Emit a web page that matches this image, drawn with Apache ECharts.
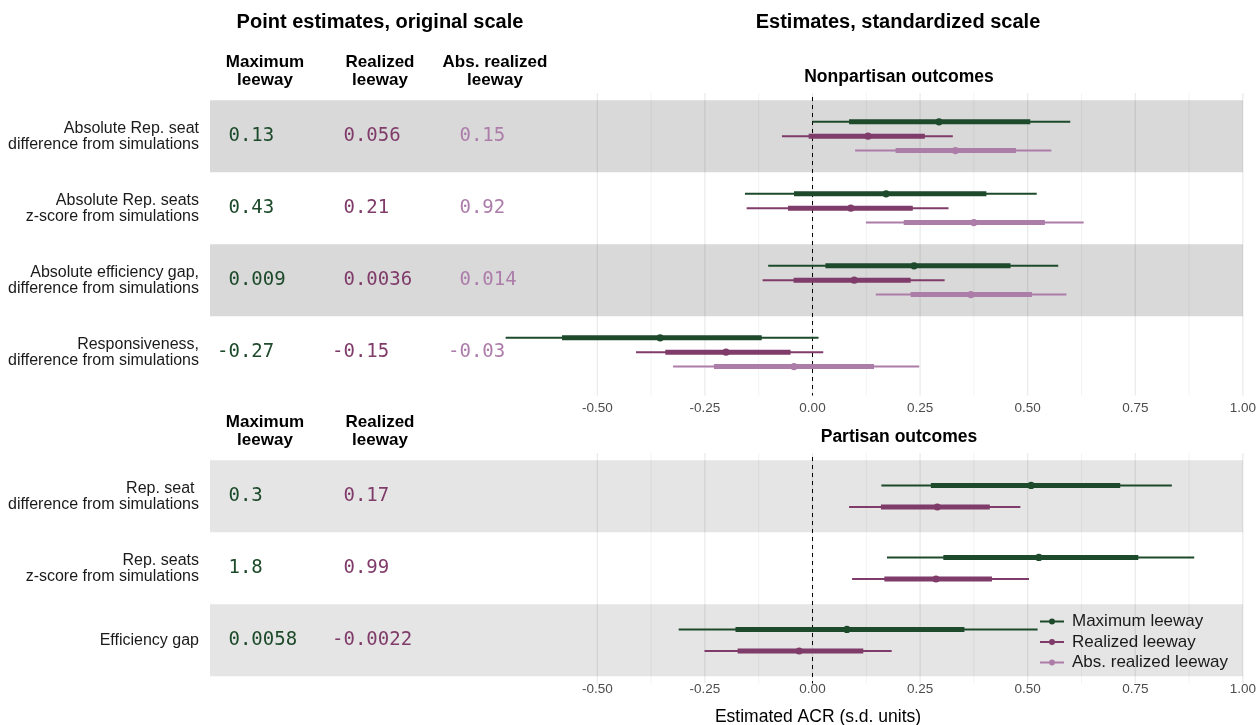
<!DOCTYPE html>
<html><head><meta charset="utf-8">
<script src="https://cdn.jsdelivr.net/npm/echarts@6/dist/echarts.min.js"></script>
<style>html,body{margin:0;padding:0;background:#fff}#c{width:1259px;height:725px}</style>
</head><body><div id="c"></div>
<script>
// ---------- DATA ----------
const topCategories = [
  'Absolute Rep. seat\ndifference from simulations',
  'Absolute Rep. seats\nz-score from simulations',
  'Absolute efficiency gap,\ndifference from simulations',
  'Responsiveness,\ndifference from simulations'
];
const bottomCategories = [
  'Rep. seat \ndifference from simulations',
  'Rep. seats\nz-score from simulations',
  'Efficiency gap'
];
const seriesNames = ['Maximum leeway', 'Realized leeway', 'Abs. realized leeway'];
const xTickValues = [-0.5, -0.25, 0, 0.25, 0.5, 0.75, 1.0];
const gridValues = [-0.5, -0.375, -0.25, -0.125, 0, 0.125, 0.25, 0.375, 0.5, 0.625, 0.75, 0.875, 1.0];

// top panel (nonpartisan) standardized estimates
const topMaxPoint   = [0.294, 0.171, 0.236, -0.354];
const topMaxInLo    = [0.085, -0.043, 0.030, -0.582];
const topMaxInHi    = [0.506, 0.404, 0.460, -0.118];
const topMaxOutLo   = [0.000, -0.157, -0.103, -0.713];
const topMaxOutHi   = [0.599, 0.521, 0.571, 0.014];

const topRealPoint  = [0.129, 0.089, 0.097, -0.201];
const topRealInLo   = [-0.009, -0.057, -0.044, -0.342];
const topRealInHi   = [0.261, 0.233, 0.228, -0.051];
const topRealOutLo  = [-0.071, -0.153, -0.116, -0.410];
const topRealOutHi  = [0.326, 0.316, 0.307, 0.025];

const topAbsPoint   = [0.332, 0.375, 0.368, -0.043];
const topAbsInLo    = [0.193, 0.212, 0.228, -0.229];
const topAbsInHi    = [0.473, 0.540, 0.510, 0.143];
const topAbsOutLo   = [0.099, 0.124, 0.147, -0.324];
const topAbsOutHi   = [0.555, 0.630, 0.590, 0.248];

// bottom panel (partisan) standardized estimates
const botMaxPoint   = [0.508, 0.526, 0.080];
const botMaxInLo    = [0.275, 0.304, -0.179];
const botMaxInHi    = [0.715, 0.757, 0.353];
const botMaxOutLo   = [0.160, 0.173, -0.311];
const botMaxOutHi   = [0.835, 0.887, 0.523];

const botRealPoint  = [0.290, 0.287, -0.031];
const botRealInLo   = [0.159, 0.167, -0.174];
const botRealInHi   = [0.412, 0.417, 0.118];
const botRealOutLo  = [0.085, 0.092, -0.251];
const botRealOutHi  = [0.483, 0.503, 0.184];

// point estimates, original scale (table text)
const topOrigMax  = ['0.13', '0.43', '0.009', '-0.27'];
const topOrigReal = ['0.056', '0.21', '0.0036', '-0.15'];
const topOrigAbs  = ['0.15', '0.92', '0.014', '-0.03'];
const botOrigMax  = ['0.3', '1.8', '0.0058'];
const botOrigReal = ['0.17', '0.99', '-0.0022'];

const topShadedRows = [1, 3];
const botShadedRows = [1, 3];

// ---------- STYLE ----------
const COLORS = ['#1d4a2a', '#7f3b69', '#ad7daa'];
const SANS = 'Liberation Sans, Arial, Helvetica, sans-serif';
const MONO = 'DejaVu Sans Mono, monospace';

const chart = echarts.init(document.getElementById('c'), null, {renderer: 'canvas'});

function forestSeries(gi, idx, point, inLo, inHi, outLo, outHi, offset) {
  const color = COLORS[idx];
  return {
    type: 'custom', name: seriesNames[idx], xAxisIndex: gi, yAxisIndex: gi, z: 6,
    itemStyle: {color: color},
    data: point.map((p, i) => [p, i + 1, inLo[i], inHi[i], outLo[i], outHi[i]]),
    encode: {x: [0, 2, 3, 4, 5], y: 1},
    renderItem: function (params, api) {
      const y = api.value(1) + offset;
      const p = api.coord([api.value(0), y]);
      const a = api.coord([api.value(4), y]);
      const b = api.coord([api.value(5), y]);
      const c = api.coord([api.value(2), y]);
      const d = api.coord([api.value(3), y]);
      return {type: 'group', children: [
        {type: 'line', shape: {x1: a[0], y1: a[1], x2: b[0], y2: b[1]}, style: {stroke: color, lineWidth: 2}},
        {type: 'line', shape: {x1: c[0], y1: c[1], x2: d[0], y2: d[1]}, style: {stroke: color, lineWidth: 5}},
        {type: 'circle', shape: {cx: p[0], cy: p[1], r: 3.6}, style: {fill: color}}
      ]};
    }
  };
}

function bandSeries(gi, rows, fill) {
  return {
    type: 'custom', xAxisIndex: gi, yAxisIndex: gi, silent: true, z: 1,
    data: rows.map(r => [0, r]),
    renderItem: function (params, api) {
      const cs = params.coordSys;
      const t = api.coord([0, api.value(1) - 0.5])[1];
      const b = api.coord([0, api.value(1) + 0.5])[1];
      return {type: 'rect', shape: {x: cs.x, y: t, width: cs.width, height: b - t}, style: {fill: fill}};
    }
  };
}

function gridLineSeries(gi) {
  return {
    type: 'custom', xAxisIndex: gi, yAxisIndex: gi, silent: true, z: 2,
    data: gridValues.map(v => [v, 1]),
    renderItem: function (params, api) {
      const cs = params.coordSys;
      const v = api.value(0);
      const x = api.coord([v, 1])[0];
      const major = Math.abs(v / 0.25 - Math.round(v / 0.25)) < 1e-6;
      return {type: 'line', shape: {x1: x, y1: cs.y, x2: x, y2: cs.y + cs.height},
        style: {stroke: major ? 'rgba(0,0,0,0.085)' : 'rgba(0,0,0,0.05)', lineWidth: major ? 1.2 : 1}};
    }
  };
}

function zeroLineSeries(gi) {
  return {
    type: 'custom', xAxisIndex: gi, yAxisIndex: gi, silent: true, z: 3,
    data: [[0, 1]],
    renderItem: function (params, api) {
      const cs = params.coordSys;
      const x = api.coord([api.value(0), 1])[0];
      return {type: 'line', shape: {x1: x, y1: cs.y + 4, x2: x, y2: cs.y + cs.height},
        style: {stroke: '#000', lineWidth: 1, lineDash: [4, 4]}};
    }
  };
}

function textColumn(gi, values, color, xPx) {
  return {
    type: 'custom', xAxisIndex: gi, yAxisIndex: gi, silent: true, z: 6,
    data: values.map((v, i) => [0, i + 1]),
    renderItem: function (params, api) {
      const y = api.coord([0, api.value(1)])[1];
      const s = values[params.dataIndex];
      return {type: 'text', x: xPx, y: y,
        style: {text: (s.charAt(0) === '-' ? '' : ' ') + s, fill: color, font: '19px ' + MONO,
          textAlign: 'left', textVerticalAlign: 'middle'}};
    }
  };
}

function xAxisDef(gi, margin) {
  return {
    type: 'value', gridIndex: gi, min: -1.4, max: 1.0,
    axisLine: {show: false}, axisTick: {show: false}, splitLine: {show: false},
    axisLabel: {customValues: xTickValues, formatter: v => v.toFixed(2), color: '#4d4d4d',
      fontSize: 13.5, fontFamily: SANS, margin: margin}
  };
}

function yAxisDef(gi, cats, maxV) {
  return {
    type: 'value', gridIndex: gi, min: 0.4, max: maxV, inverse: true,
    axisLine: {show: false}, axisTick: {show: false}, splitLine: {show: false},
    axisLabel: {customValues: cats.map((c, i) => i + 1), formatter: v => cats[Math.round(v) - 1] || '',
      color: '#1a1a1a', fontSize: 16, lineHeight: 16, fontFamily: SANS, margin: 11, align: 'right'}
  };
}

const titleText = (x, y, text, size, weight) => ({
  type: 'text', x: x, y: y,
  style: {text: text, font: (weight || 'bold') + ' ' + size + 'px ' + SANS, fill: '#000',
    textAlign: 'center', textVerticalAlign: 'middle', lineHeight: 18}
});

const option = {
  animation: false,
  backgroundColor: '#fff',
  grid: [
    {left: 210, width: 1035, top: 93, height: 302.4},
    {left: 210, width: 1035, top: 453, height: 230.4}
  ],
  xAxis: [xAxisDef(0, 5.5), xAxisDef(1, -1.5)],
  yAxis: [yAxisDef(0, topCategories, 4.6), yAxisDef(1, bottomCategories, 3.6)],
  legend: {
    data: seriesNames, orient: 'vertical', left: 1035, top: 608, itemGap: 3.5,
    itemWidth: 24, itemHeight: 6, selectedMode: false,
    icon: 'path://M0,2 L24,2 L24,4 L0,4 Z M9,3 A3,3 0 1 1 15,3 A3,3 0 1 1 9,3 Z',
    textStyle: {fontSize: 17, fontFamily: SANS, color: '#1a1a1a', padding: [0, 0, 0, 3]}
  },
  graphic: [
    titleText(380, 22, 'Point estimates, original scale', 20),
    titleText(898, 22, 'Estimates, standardized scale', 20),
    titleText(899, 77, 'Nonpartisan outcomes', 17.5),
    titleText(899, 437, 'Partisan outcomes', 17.5),
    titleText(265, 71, 'Maximum\nleeway', 17),
    titleText(380, 71, 'Realized\nleeway', 17),
    titleText(495, 71, 'Abs. realized\nleeway', 17),
    titleText(265, 431, 'Maximum\nleeway', 17),
    titleText(380, 431, 'Realized\nleeway', 17),
    titleText(818, 717, 'Estimated ACR (s.d. units)', 17.5, 'normal')
  ],
  series: [
    bandSeries(0, topShadedRows, '#d9d9d9'),
    bandSeries(1, botShadedRows, '#e5e5e5'),
    gridLineSeries(0), gridLineSeries(1),
    zeroLineSeries(0), zeroLineSeries(1),
    forestSeries(0, 0, topMaxPoint, topMaxInLo, topMaxInHi, topMaxOutLo, topMaxOutHi, -0.2),
    forestSeries(0, 1, topRealPoint, topRealInLo, topRealInHi, topRealOutLo, topRealOutHi, 0),
    forestSeries(0, 2, topAbsPoint, topAbsInLo, topAbsInHi, topAbsOutLo, topAbsOutHi, 0.2),
    forestSeries(1, 0, botMaxPoint, botMaxInLo, botMaxInHi, botMaxOutLo, botMaxOutHi, -0.15),
    forestSeries(1, 1, botRealPoint, botRealInLo, botRealInHi, botRealOutLo, botRealOutHi, 0.15),
    textColumn(0, topOrigMax, COLORS[0], 217),
    textColumn(0, topOrigReal, COLORS[1], 332),
    textColumn(0, topOrigAbs, COLORS[2], 448),
    textColumn(1, botOrigMax, COLORS[0], 217),
    textColumn(1, botOrigReal, COLORS[1], 332)
  ]
};
chart.setOption(option);
</script>
</body></html>
